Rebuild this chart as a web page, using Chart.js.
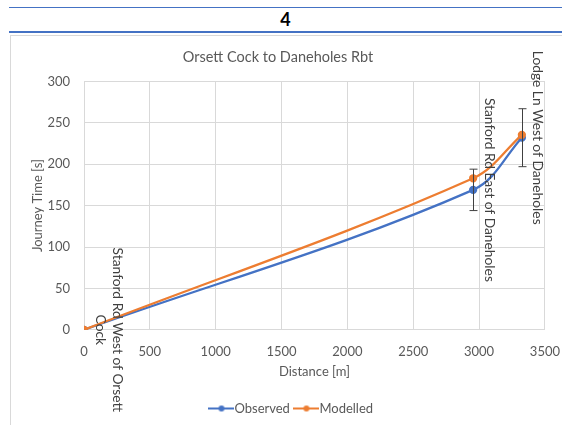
<!DOCTYPE html>
<html>
<head>
<meta charset="utf-8">
<script src="https://cdn.jsdelivr.net/npm/chart.js@4.4.0/dist/chart.umd.min.js"></script>
<style>
  body { margin: 0; background: #fff; font-family: Lato, "Open Sans", sans-serif; }
  #head { position: absolute; left: 9px; top: 7px; width: 553px; height: 23px; border-top: 1.5px solid #4472c4; border-bottom: 2.5px solid #4472c4; text-align: center; font: bold 18px Lato, sans-serif; line-height: 23px; color: #000; }
  #box { position: absolute; left: 10px; top: 35px; width: 552px; height: 390px; border-left: 1px solid #d9d9d9; border-top: 1px solid #d9d9d9; }
  canvas { position: absolute; left: 0; top: 0; }
</style>
</head>
<body>
<div id="head">4</div>
<div id="box"><canvas id="c" width="551" height="389"></canvas></div>
<script>
// Chart data
const distance = [0, 2955, 3325];
const observed = [0, 169, 232];
const modelled = [0, 183, 235.5];
const obsLow = [0, 144, 197];
const obsHigh = [0, 194, 267];
const pointNames = [['Stanford Rd West of Orsett', 'Cock'], ['Stanford Rd East of Daneholes'], ['Lodge Ln West of Daneholes']];
const xTicks = [0, 500, 1000, 1500, 2000, 2500, 3000, 3500];
const yTicks = [0, 50, 100, 150, 200, 250, 300];

const blue = '#4472c4';
const orange = '#ed7d31';
const font = 'Lato, "Open Sans", sans-serif';

// legend marker: line with a dot
function marker(color) {
  const c = document.createElement('canvas');
  c.width = 26; c.height = 8;
  const g = c.getContext('2d');
  g.strokeStyle = color; g.lineWidth = 2;
  g.beginPath(); g.moveTo(0, 4); g.lineTo(26, 4); g.stroke();
  g.fillStyle = color;
  g.beginPath(); g.arc(13, 4, 3, 0, Math.PI * 2); g.fill();
  return c;
}

// error bars on observed points
const errorBars = {
  id: 'errorBars',
  afterDatasetsDraw(chart) {
    const ctx = chart.ctx, xs = chart.scales.x, ys = chart.scales.y;
    ctx.save();
    ctx.strokeStyle = '#404040';
    ctx.lineWidth = 1;
    for (let i = 0; i < distance.length; i++) {
      if (obsHigh[i] === obsLow[i]) continue;
      const x = Math.round(xs.getPixelForValue(distance[i])) + 0.5;
      const y1 = ys.getPixelForValue(obsLow[i]);
      const y2 = ys.getPixelForValue(obsHigh[i]);
      ctx.beginPath();
      ctx.moveTo(x, y1); ctx.lineTo(x, y2);
      ctx.moveTo(x - 4, y1); ctx.lineTo(x + 4, y1);
      ctx.moveTo(x - 4, y2); ctx.lineTo(x + 4, y2);
      ctx.stroke();
    }
    ctx.restore();
  }
};

// rotated point names
const pointLabels = {
  id: 'pointLabels',
  afterDatasetsDraw(chart) {
    const ctx = chart.ctx, xs = chart.scales.x, ys = chart.scales.y;
    ctx.save();
    ctx.fillStyle = '#404040';
    ctx.font = '13.8px ' + font;
    ctx.textAlign = 'center';
    ctx.textBaseline = 'middle';
    for (let i = 0; i < distance.length; i++) {
      const x = xs.getPixelForValue(distance[i]);
      const y = ys.getPixelForValue(observed[i]);
      ctx.save();
      ctx.translate(x, y);
      ctx.rotate(Math.PI / 2);
      const lines = pointNames[i];
      lines.forEach((t, k) => {
        ctx.fillText(t, 0, -16 - 17 * (lines.length - 1 - k));
      });
      ctx.restore();
    }
    ctx.restore();
  }
};

// the chart title sits a little left of the canvas centre
const titleShift = {
  id: 'titleShift',
  afterLayout(chart) {
    const t = chart.titleBlock;
    const d = 267 - (t.left + t.right) / 2;
    t.left += d; t.right += d;
  }
};

new Chart(document.getElementById('c'), {
  type: 'line',
  data: {
    datasets: [
      {
        label: 'Observed',
        data: distance.map((d, i) => ({ x: d, y: observed[i] })),
        borderColor: blue, backgroundColor: blue,
        borderWidth: 2.25, pointRadius: 3, pointHoverRadius: 3,
        tension: 0.35, order: 1
      },
      {
        label: 'Modelled',
        data: distance.map((d, i) => ({ x: d, y: modelled[i] })),
        borderColor: orange, backgroundColor: orange,
        borderWidth: 2.25, pointRadius: 3, pointHoverRadius: 3,
        tension: 0.35, order: 0
      }
    ]
  },
  options: {
    responsive: false,
    animation: false,
    layout: { padding: { left: 15, right: 0, top: 0, bottom: 0 } },
    plugins: {
      title: {
        display: true,
        text: 'Orsett Cock to Daneholes Rbt',
        color: '#595959',
        font: { family: font, size: 14.5, weight: 'normal' },
        padding: { top: 13, bottom: 15 }
      },
      legend: {
        position: 'bottom',
        labels: {
          color: '#595959',
          font: { family: font, size: 13 },
          usePointStyle: true,
          boxWidth: 26, boxHeight: 8,
          padding: 10,
          generateLabels(chart) {
            return chart.data.datasets.map((ds, i) => ({
              text: ds.label, pointStyle: marker(ds.borderColor),
              fillStyle: ds.borderColor, strokeStyle: ds.borderColor,
              lineWidth: 0, datasetIndex: i, hidden: false, fontColor: '#595959'
            }));
          }
        }
      },
      tooltip: { enabled: false }
    },
    scales: {
      x: {
        type: 'linear',
        min: 0, max: 3500,
        afterBuildTicks(s) { s.ticks = xTicks.map(v => ({ value: v })); },
        ticks: { color: '#595959', font: { family: font, size: 13 }, padding: 2, maxRotation: 0, callback: v => String(v) },
        grid: { color: '#d9d9d9', drawTicks: true, tickLength: 12, tickColor: 'rgba(0,0,0,0)' },
        border: { color: '#d9d9d9' },
        title: { display: true, text: 'Distance [m]', color: '#595959', font: { family: font, size: 13 }, padding: { top: 3, bottom: 12 } }
      },
      y: {
        min: 0, max: 300,
        afterBuildTicks(s) { s.ticks = yTicks.map(v => ({ value: v })); },
        afterFit(s) { s.width = 58; },
        ticks: { color: '#595959', font: { family: font, size: 13 }, padding: 14, callback: v => String(v) },
        grid: { color: '#d9d9d9', drawTicks: false },
        border: { color: '#d9d9d9' },
        title: { display: true, text: 'Journey Time [s]', color: '#595959', font: { family: font, size: 13 } }
      }
    }
  },
  plugins: [errorBars, pointLabels, titleShift]
});
</script>
</body>
</html>
